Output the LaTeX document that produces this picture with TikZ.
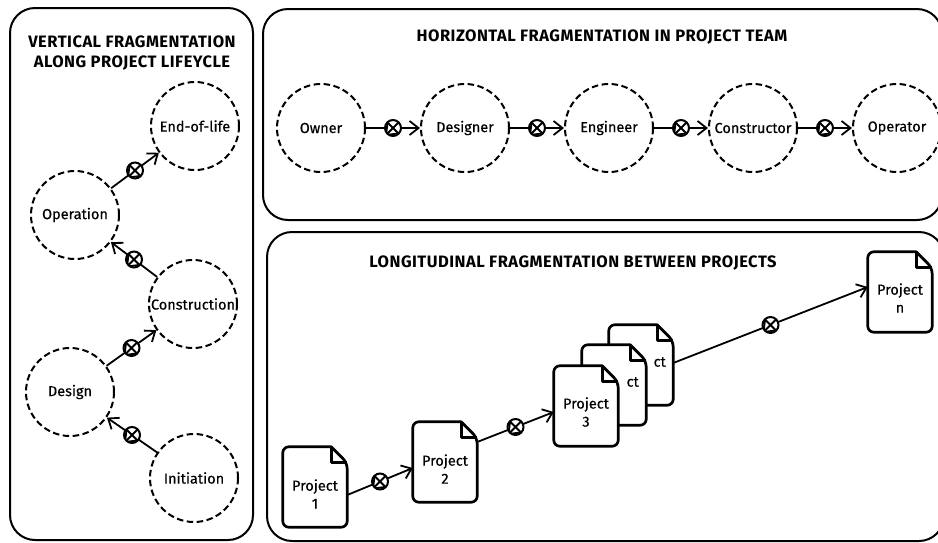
\documentclass[tikz,border=0pt]{standalone}
\usepackage{fontspec}
\setmainfont{Fira Sans}
\newfontfamily\medfont{Fira Sans}[FakeBold=0.35]
\usetikzlibrary{arrows.meta,calc}
\newcommand\docoutline[1]{%
  \filldraw[docline] (#1.north) [rounded corners=6] -- (#1.north west) -- (#1.south west) -- (#1.south east) -- ([yshift=-16]#1.north east) [sharp corners] -- ([xshift=-16]#1.north east) -- cycle;
  \draw[docline, fill=none] ([xshift=-16]#1.north east) -- ([xshift=-16,yshift=-16]#1.north east) -- ([yshift=-16]#1.north east);
}
\begin{document}
\begin{tikzpicture}[x=1pt,y=-1pt,
  panel/.style={draw, line width=2, rounded corners=25},
  stage/.style={circle, draw, line width=2, dash pattern=on 6.5pt off 3.5pt, minimum size=88, inner sep=0, font=\medfont\fontsize{14.5}{17}\selectfont},
  title/.style={font=\bfseries\fontsize{16.5}{20}\selectfont\addfontfeatures{LetterSpace=3}, align=center},
  arr/.style={line width=1.8, -{Straight Barb[length=9pt,width=14pt,line width=1.8pt]}},
  otimes/.style={circle, draw, fill=white, line width=2, minimum size=16, inner sep=0,
    path picture={\draw[line width=1.8] (path picture bounding box.north west) -- (path picture bounding box.south east) (path picture bounding box.north east) -- (path picture bounding box.south west);}},
  docbox/.style={rectangle, minimum width=64, minimum height=80, inner sep=0},
  docline/.style={line width=2.7, fill=white, line join=round},
  doctext/.style={align=center, inner sep=0, font=\medfont\fontsize{14.5}{18}\selectfont}
]
\useasboundingbox (0,0) rectangle (938,542);
\fill[white] (0,0) rectangle (938,542);
\clip (0,0) rectangle (938,542);

% panels
\draw[panel] (10,8) rectangle (253,540);
\draw[panel] (263,9) rectangle (942,220);
\draw[panel] (267,232) rectangle (944,541);

% titles
\node[title] (vt) at (132,53) {VERTICAL FRAGMENTATION\\ALONG PROJECT LIFEYCLE};
\node[title] (ht) at (602,37) {HORIZONTAL FRAGMENTATION IN PROJECT TEAM};
\node[title] (lt) at (573,263) {LONGITUDINAL FRAGMENTATION BETWEEN PROJECTS};

% vertical fragmentation
\node[stage] (eol) at (195,126) {End-of-life};
\node[stage] (oper) at (75,215) {Operation};
\node[stage] (cons) at (193,304) {Construction};
\node[stage] (des) at (70,392) {Design};
\node[stage] (init) at (194,478) {Initiation};
\draw[arr] (oper) -- node[otimes] (v1) {} (eol);
\draw[arr] (cons) -- node[otimes] (v2) {} (oper);
\draw[arr] (des) -- node[otimes] (v3) {} (cons);
\draw[arr] (init) -- node[otimes] (v4) {} (des);

% horizontal fragmentation
\node[stage] (own) at (321,128) {Owner};
\node[stage] (dsg) at (465,128) {Designer};
\node[stage] (eng) at (609,128) {Engineer};
\node[stage] (ctr) at (753,128) {Constructor};
\node[stage] (opr) at (897,128) {Operator};
\draw[arr] (own) -- node[otimes] (h1) {} (dsg);
\draw[arr] (dsg) -- node[otimes] (h2) {} (eng);
\draw[arr] (eng) -- node[otimes] (h3) {} (ctr);
\draw[arr] (ctr) -- node[otimes] (h4) {} (opr);

% longitudinal fragmentation
\node[docbox] (p1) at (315,487) {};
\docoutline{p1}
\node[doctext] (p1t) at (315,494) {Project\\1};

\node[docbox] (p2) at (445,462) {};
\docoutline{p2}
\node[doctext] (p2t) at (445,469) {Project\\2};

\node[docbox] (p3c) at (641,365) {};
\docoutline{p3c}
\node[anchor=east, inner sep=0, font=\medfont\fontsize{14.5}{18}\selectfont] (p3ct) at (666,362) {ct};

\node[docbox] (p3b) at (614,385) {};
\docoutline{p3b}
\node[anchor=east, inner sep=0, font=\medfont\fontsize{14.5}{18}\selectfont] (p3bt) at (639,382) {ct};

\node[docbox] (p3) at (586,406) {};
\docoutline{p3}
\node[doctext] (p3t) at (586,412) {Project\\3};

\node[docbox] (pn) at (900,292) {};
\docoutline{pn}
\node[doctext] (pnt) at (900,298) {Project\\n};

\draw[arr] ([yshift=-8]p1.east) -- node[otimes] (l1) {} ([yshift=-6]p2.west);
\draw[arr] ([yshift=20]p2.east) -- node[otimes] (l2) {} ([yshift=-6]p3.west);
\draw[arr] ([yshift=2]p3c.east) -- node[otimes] (l3) {} ([yshift=5]pn.west);
\end{tikzpicture}
\end{document}
